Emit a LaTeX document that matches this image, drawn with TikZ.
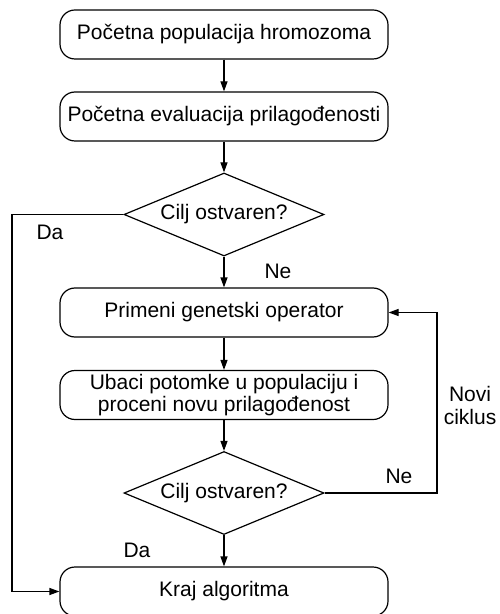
\documentclass[tikz,border=0pt]{standalone}
\usepackage{fontspec}
\setmainfont{Liberation Sans}
\usetikzlibrary{shapes.geometric,arrows.meta}

\begin{document}
\begin{tikzpicture}[x=0.5pt,y=-0.5pt,line width=0.6pt,
  >={Triangle[length=5pt,width=3.5pt]},
  korak/.style={draw,rounded corners=7.5pt,minimum width=164pt,minimum height=24.5pt,
    inner ysep=0.5pt,align=center,font=\fontsize{10.5}{11}\selectfont},
  uslov/.style={draw,diamond,aspect=2.4,inner sep=0pt,minimum width=100pt,
    minimum height=41.5pt,font=\fontsize{10.5}{11}\selectfont},
  oznaka/.style={inner sep=0pt,align=center,font=\fontsize{10.5}{11.5}\selectfont}]
\useasboundingbox (0,0) rectangle (499,614);
\clip (0,0) rectangle (499,614);

\node[korak] (pop) at (224,34.5) {Početna populacija hromozoma};
\node[korak] (eval) at (224,116.5) {Početna evaluacija prilagođenosti};
\node[uslov] (cilj1) at (224,214.5) {Cilj ostvaren?};
\node[korak] (oper) at (224,312.5) {Primeni genetski operator};
\node[korak] (ubaci) at (224,395) {Ubaci potomke u populaciju i\\proceni novu prilagođenost};
\node[uslov] (cilj2) at (224,493) {Cilj ostvaren?};
\node[korak] (kraj) at (224,591.5) {Kraj algoritma};

\coordinate (levo) at (12,0);
\coordinate (desno) at (437,0);

\draw[->] (pop) -- (eval);
\draw[->] (eval) -- (cilj1);
\draw[->] (cilj1) -- (oper);
\draw[->] (oper) -- (ubaci);
\draw[->] (ubaci) -- (cilj2);
\draw[->] (cilj2) -- (kraj);
\draw[->] (cilj1.west) -- (cilj1.west -| levo) |- (kraj.west);
\draw[->] (cilj2.east) -- (cilj2.east -| desno) |- (oper.east);

\node[oznaka] (da1) at (50,232) {Da};
\node[oznaka] (ne1) at (278,271) {Ne};
\node[oznaka] (ne2) at (399,476) {Ne};
\node[oznaka] (novi) at (470,405) {Novi\\ciklus};
\node[oznaka] (da2) at (137,550) {Da};
\end{tikzpicture}
\end{document}
